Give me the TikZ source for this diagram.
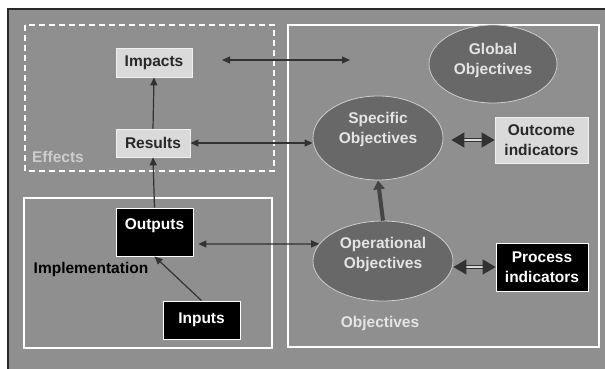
\documentclass[tikz,border=0pt]{standalone}
\usepackage{fontspec}
\setmainfont{Liberation Sans}
\usetikzlibrary{arrows.meta,shapes.geometric,calc}
\definecolor{bg}{RGB}{143,143,143}
\definecolor{ellfill}{RGB}{104,104,104}
\definecolor{ellline}{RGB}{205,205,205}
\definecolor{ltbox}{RGB}{218,218,218}
\definecolor{ltline}{RGB}{240,240,240}
\definecolor{dk}{RGB}{50,50,50}
\definecolor{txtdk}{RGB}{40,40,40}
\definecolor{txtlt}{RGB}{228,228,228}
\definecolor{frame}{RGB}{40,40,40}
\tikzset{
  fnt/.style={font=\fontsize{15.5}{20}\selectfont\bfseries},
  lightbox/.style={draw=ltline, line width=0.8pt, fill=ltbox, text=txtdk, fnt, inner sep=0pt, align=center},
  blackbox/.style={draw=white, line width=0.8pt, fill=black, text=white, fnt, inner sep=0pt, align=center},
  ell/.style={ellipse, draw=ellline, line width=0.8pt, fill=ellfill, inner sep=0pt},
  elltxt/.style={text=txtlt, fnt, align=center, inner sep=0pt},
  grp/.style={draw=white, line width=1.2pt},
  arr/.style={draw=dk, line width=1.2pt, -{Triangle[length=8pt,width=7pt]}},
  darr/.style={draw=dk, line width=1.2pt, {Triangle[length=8pt,width=7pt]}-{Triangle[length=8pt,width=7pt]}},
  dbl/.style={draw=dk, line width=1pt, double=ltbox, double distance=2.2pt, {Triangle[length=13pt,width=15pt]}-{Triangle[length=13pt,width=15pt]}},
  thick arr/.style={draw=dk!80!bg, line width=4pt, -{Triangle[length=9pt,width=11pt]}},
}
\begin{document}
\begin{tikzpicture}[x=1pt,y=-1pt]
\useasboundingbox (0,0) rectangle (605,369);
\fill[white] (0,0) rectangle (605,369);
\fill[bg] (8,9) rectangle (605,369);
\draw[frame, line width=1.5pt] (8,369) -- (8,9) -- (605,9);

% group boxes
\draw[grp, dashed, dash pattern=on 6pt off 4pt] (25,25) rectangle (274,171);
\draw[grp] (288,25) rectangle (599,347);
\draw[grp] (24,198) rectangle (272,348);

% labels
\node[fnt, text=ellline, inner sep=0pt] (effects) at (58,157) {Effects};
\node[fnt, text=black, inner sep=0pt] (impl) at (91,269) {Implementation};
\node[elltxt] (objlabel) at (380,323) {Objectives};

% boxes
\node[lightbox, minimum width=76pt, minimum height=29pt] (impacts) at (154,62.5) {Impacts};
\node[lightbox, minimum width=74pt, minimum height=28pt] (results) at (153,143) {Results};
\node[blackbox, minimum width=77pt, minimum height=48pt, text height=17pt, text depth=22pt, inner ysep=4.5pt] (outputs) at (154.5,232) {Outputs};
\node[blackbox, minimum width=77pt, minimum height=38pt] (inputs) at (201.5,320) {Inputs};
\node[lightbox, minimum width=93pt, minimum height=46pt] (outcome) at (541.5,140) {Outcome\\indicators};
\node[blackbox, minimum width=92pt, minimum height=48pt] (process) at (542,267) {Process\\indicators};

% ellipses
\node[ell, minimum width=128pt, minimum height=78pt] (global) at (493,64) {};
\node[elltxt] (globalt) at (493,60) {Global\\Objectives};
\node[ell, minimum width=130pt, minimum height=84pt] (specific) at (378,138) {};
\node[elltxt] (specifict) at (378,129) {Specific\\Objectives};
\node[ell, minimum width=140pt, minimum height=80pt] (operational) at (383,261) {};
\node[elltxt] (operationalt) at (383,254.5) {Operational\\Objectives};

% connectors
\draw[arr] (results.north) -- (impacts.south);
\draw[arr] (outputs.north) -- (results.south);
\draw[arr] (inputs.north) -- (outputs.south);
\coordinate (iL) at (222,60);
\coordinate (iR) at (350,60);
\draw[darr] (iL) -- (iR);
\draw[darr] (results.east) -- (results.east -| specific.west);
\draw[darr] ([xshift=5pt,yshift=-12pt]outputs.east) -- (operational.165);
\draw[thick arr] (operational.north) -- (specific.south);
\draw[dbl] ([xshift=8pt]specific.east |- outcome.west) -- (outcome.west);
\draw[dbl] (operational.east |- process.west) -- (process.west);
\end{tikzpicture}
\end{document}
